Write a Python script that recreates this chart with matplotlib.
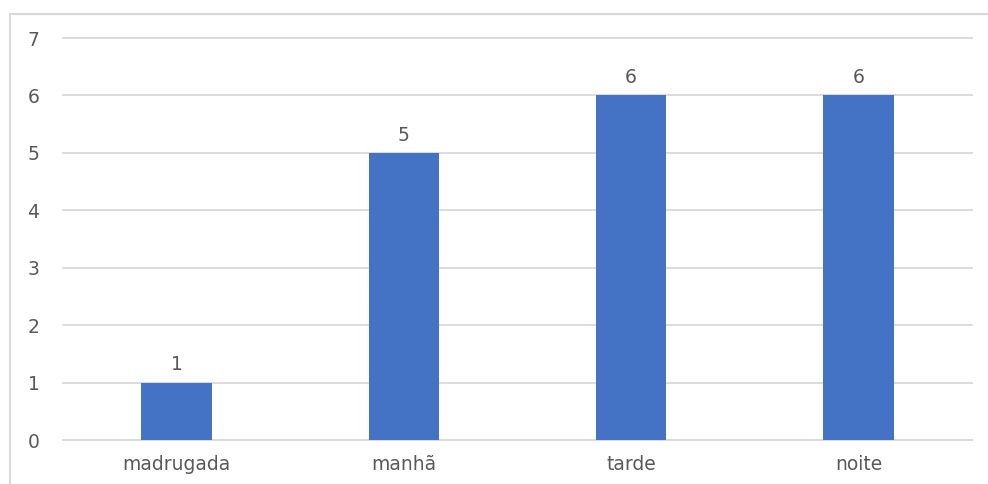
import matplotlib
matplotlib.use("Agg")
import matplotlib.pyplot as plt
from matplotlib.patches import Rectangle

categories = ["madrugada", "manhã", "tarde", "noite"]
values = [1, 5, 6, 6]
yticks = [0, 1, 2, 3, 4, 5, 6, 7]

plt.rcParams['font.family'] = ['DejaVu Sans']
text_color = "#595959"
grid_color = "#d9d9d9"
bar_color = "#4472c4"
fs = 13.5

fig = plt.figure(figsize=(9.88, 4.84), dpi=100)
ax = fig.add_axes([63/988, 1 - 440/484, (972-63)/988, (440-38)/484])

# chart area frame
fig.patches.append(Rectangle((10/988, -0.1), 1.2, 1 - 14/484 + 0.1,
                             transform=fig.transFigure, fill=False,
                             edgecolor=grid_color, linewidth=1.5))

x = range(len(categories))
ax.bar(x, values, width=0.31, color=bar_color, zorder=3)
for xi, v in zip(x, values):
    ax.annotate(str(v), (xi, v), xytext=(0, 6), textcoords="offset points",
                ha="center", va="bottom", fontsize=fs, color=text_color)

ax.set_xlim(-0.5, len(categories) - 0.5)
ax.set_ylim(0, 7)
ax.set_yticks(yticks)
ax.set_xticks(list(x))
ax.set_xticklabels(categories)
ax.yaxis.grid(True, color=grid_color, linewidth=1.3, zorder=0)
for gl in ax.get_ygridlines():
    gl.set_clip_on(False)
ax.set_axisbelow(True)
for s in ["top", "right", "left"]:
    ax.spines[s].set_visible(False)
ax.spines["bottom"].set_color(grid_color)
ax.spines["bottom"].set_linewidth(1.3)
ax.tick_params(axis="both", length=0, labelsize=fs, colors=text_color)
ax.tick_params(axis="y", pad=17)
ax.tick_params(axis="x", pad=11)

fig.savefig("out.png", dpi=100)
